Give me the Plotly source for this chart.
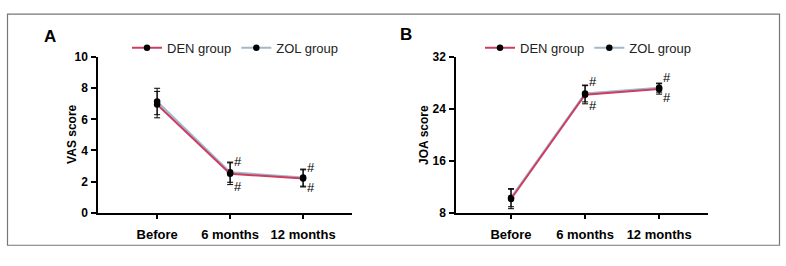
import plotly.graph_objects as go

W, H = 786, 266

categories = ["Before", "6 months", "12 months"]
cat_pos = [0, 1, 2]

# Panel A: VAS score
vas_den = [6.95, 2.5, 2.2]
vas_den_sd = [0.85, 0.7, 0.55]
vas_zol = [7.15, 2.6, 2.25]
vas_zol_sd = [0.85, 0.65, 0.55]

# Panel B: JOA score
joa_den = [10.1, 26.2, 27.1]
joa_den_sd = [1.5, 1.4, 0.8]
joa_zol = [10.3, 26.4, 27.3]
joa_zol_sd = [1.4, 1.3, 0.7]

vas_ticks = [0, 2, 4, 6, 8, 10]
joa_ticks = [8, 16, 24, 32]

# '#' significance marks: (category index, y value)
vas_hash = [(1, 3.3), (1, 1.65), (2, 2.87), (2, 1.6)]
joa_hash = [(1, 28.2), (1, 24.6), (2, 28.9), (2, 25.7)]

DEN_COLOR = "#cf3d5e"
ZOL_COLOR = "#9dbad0"
FONT = "Liberation Sans, Arial, sans-serif"

def px(x):
    return x / W

def py(y):
    return 1 - y / H

fig = go.Figure()

def add_panel(xa, ya, den, den_sd, zol, zol_sd, legend):
    fig.add_trace(go.Scatter(
        x=cat_pos, y=zol, mode="lines+markers", name="ZOL group",
        line=dict(color=ZOL_COLOR, width=2),
        marker=dict(color="black", size=6.5),
        error_y=dict(type="data", array=zol_sd, color="black", thickness=1, width=3),
        xaxis=xa, yaxis=ya, legend=legend, legendrank=2, showlegend=True))
    fig.add_trace(go.Scatter(
        x=cat_pos, y=den, mode="lines+markers", name="DEN group",
        line=dict(color=DEN_COLOR, width=2),
        marker=dict(color="black", size=6.5),
        error_y=dict(type="data", array=den_sd, color="black", thickness=1, width=3),
        xaxis=xa, yaxis=ya, legend=legend, legendrank=1, showlegend=True))

add_panel("x", "y", vas_den, vas_den_sd, vas_zol, vas_zol_sd, "legend")
add_panel("x2", "y2", joa_den, joa_den_sd, joa_zol, joa_zol_sd, "legend2")

axis_common = dict(showgrid=False, zeroline=False, showline=True, linecolor="black",
                   linewidth=1.5, ticks="outside", ticklen=5, tickwidth=1.5,
                   tickcolor="black")
xfont = dict(family=FONT, size=13, color="black", weight="bold")
yfont = dict(family=FONT, size=12, color="black", weight="bold")

fig.update_layout(
    width=W, height=H, margin=dict(l=0, r=0, t=0, b=0),
    paper_bgcolor="white", plot_bgcolor="white",
    font=dict(family=FONT, color="black"),
    xaxis=dict(domain=[px(98), px(352)], range=[-0.81, 2.67], anchor="y",
               tickvals=cat_pos, ticktext=categories, ticklabelstandoff=4,
               tickfont=xfont, **axis_common),
    yaxis=dict(domain=[py(217), py(53)], range=[0, 10], anchor="x",
               tickvals=vas_ticks, tickfont=yfont, ticklabelstandoff=1, **axis_common),
    xaxis2=dict(domain=[px(456), px(708)], range=[-0.743, 2.66], anchor="y2",
                tickvals=cat_pos, ticktext=categories, ticklabelstandoff=4,
                tickfont=xfont, **axis_common),
    yaxis2=dict(domain=[py(217), py(53)], range=[8, 32], anchor="x2",
                tickvals=joa_ticks, tickfont=yfont, ticklabelstandoff=1, **axis_common),
    legend=dict(orientation="h", x=px(127), y=py(43), xanchor="left", yanchor="middle",
                font=dict(family=FONT, size=13, color="#222"), bgcolor="rgba(0,0,0,0)",
                itemwidth=30, tracegroupgap=0),
    legend2=dict(orientation="h", x=px(480), y=py(43), xanchor="left", yanchor="middle",
                 font=dict(family=FONT, size=13, color="#222"), bgcolor="rgba(0,0,0,0)",
                 itemwidth=30, tracegroupgap=0),
    showlegend=True,
)

def label(text, x, y, size, angle=0):
    return dict(text=text, x=px(x), y=py(y), xref="paper", yref="paper",
                xanchor="center", yanchor="middle", showarrow=False, textangle=angle,
                font=dict(family=FONT, size=size, weight="bold", color="black"))

annotations = [
    label("A", 50, 31, 17),
    label("B", 406, 29, 17),
    label("VAS score", 72, 135, 12, -90),
    label("JOA score", 424, 135, 12, -90),
]
for (ci, v) in vas_hash:
    annotations.append(dict(text="#", x=ci, y=v, xref="x", yref="y", showarrow=False,
                            xshift=8, font=dict(family=FONT, size=13, color="black")))
for (ci, v) in joa_hash:
    annotations.append(dict(text="#", x=ci, y=v, xref="x2", yref="y2", showarrow=False,
                            xshift=8, font=dict(family=FONT, size=13, color="black")))
fig.update_layout(annotations=annotations)

fig.add_shape(type="rect", xref="paper", yref="paper",
              x0=px(7.5), x1=px(779.5), y0=py(251.5), y1=py(7.5),
              line=dict(color="#777", width=1.2), fillcolor="rgba(0,0,0,0)")

fig.write_html("out.html")
